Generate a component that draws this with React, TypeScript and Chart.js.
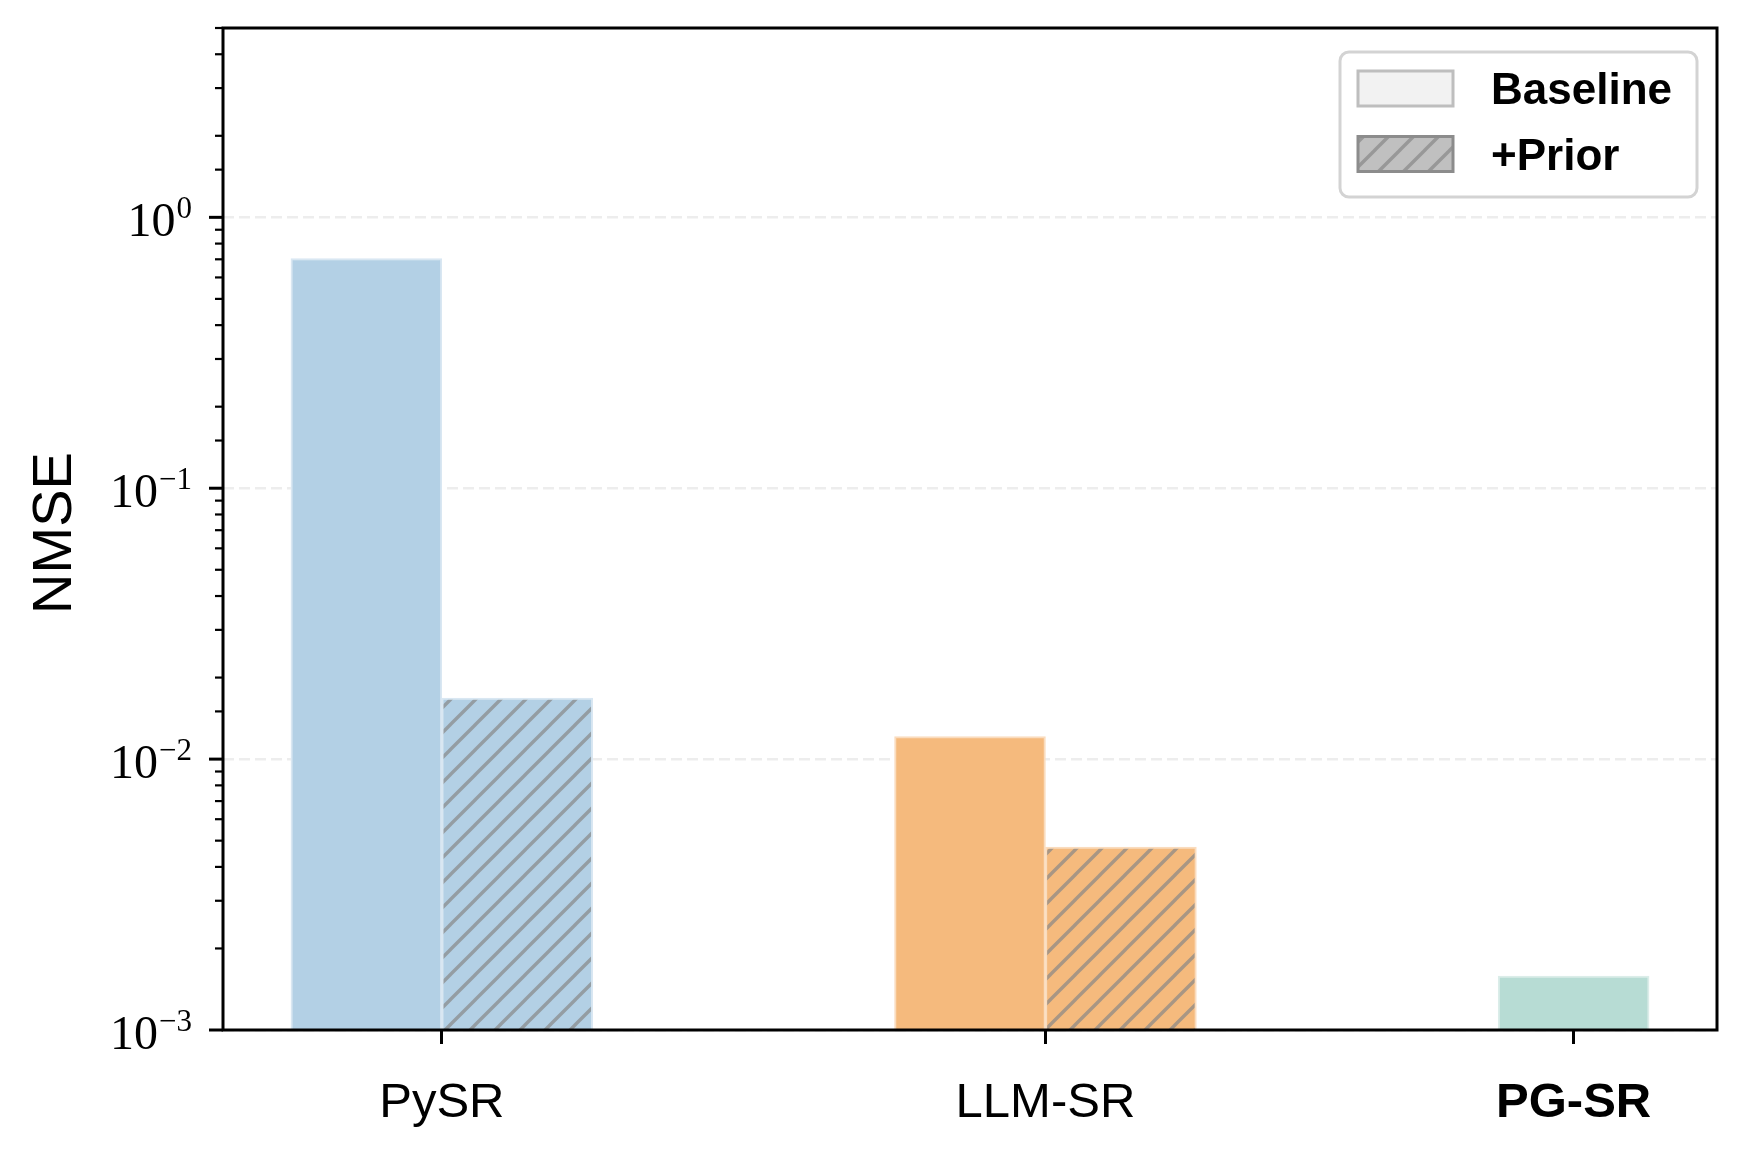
import React, { useEffect, useRef } from 'react';
import { Chart, registerables } from 'chart.js';

Chart.register(...registerables);

// ---- data ----
const categories = ['PySR', 'LLM-SR', 'PG-SR'];
const boldCategories = ['PG-SR'];
const baselineNMSE: (number | null)[] = [0.705, 0.0121, 0.00158];
const priorNMSE: (number | null)[] = [0.0168, 0.00473, null];
const seriesNames = ['Baseline', '+Prior'];
const yMin = 0.001;
const yMax = 5;
const yLabel = 'NMSE';

// ---- layout / style ----
const W = 1748;
const H = 1157;
const categoryX = [0, 1, 1.875];
const BAR_W = 0.25;
const X_MIN = -0.3625;
const X_MAX = 2.1125;
const barColors = ['rgb(179,208,229)', 'rgb(245,186,125)', 'rgb(183,220,212)'];
const barEdges = ['rgb(217,231,242)', 'rgb(250,220,190)', 'rgb(219,237,233)'];
const HATCH_COLOR = 'rgba(135,135,135,0.7)';
const HATCH_STEP = 25;

function makeHatch(bg: string, lineColor: string, lw: number) {
  const c = document.createElement('canvas');
  c.width = HATCH_STEP;
  c.height = HATCH_STEP;
  const g = c.getContext('2d')!;
  g.fillStyle = bg;
  g.fillRect(0, 0, HATCH_STEP, HATCH_STEP);
  g.strokeStyle = lineColor;
  g.lineWidth = lw;
  g.beginPath();
  for (let k = -1; k <= 1; k++) {
    g.moveTo(k * HATCH_STEP - 2, HATCH_STEP + 2);
    g.lineTo(k * HATCH_STEP + HATCH_STEP + 2, -2);
  }
  g.stroke();
  const p = document.createElement('canvas').getContext('2d')!.createPattern(c, 'repeat');
  return p as CanvasPattern;
}

const isMajor = (v: number) => {
  if (!(v > 0)) return false;
  const l = Math.log10(v);
  return Math.abs(l - Math.round(l)) < 1e-6;
};

export default function App() {
  const ref = useRef<HTMLCanvasElement>(null);

  useEffect(() => {
    document.body.style.margin = '0';
    const canvas = ref.current!;

    const baseData: any[] = [];
    const baseBg: any[] = [];
    const baseBorder: any[] = [];
    const priorData: any[] = [];
    const priorBg: any[] = [];
    const priorBorder: any[] = [];
    categories.forEach((_, i) => {
      const hasPrior = priorNMSE[i] != null;
      if (baselineNMSE[i] != null) {
        baseData.push({ x: hasPrior ? categoryX[i] - BAR_W / 2 : categoryX[i], y: baselineNMSE[i] });
        baseBg.push(barColors[i]);
        baseBorder.push(barEdges[i]);
      }
      if (hasPrior) {
        priorData.push({ x: categoryX[i] + BAR_W / 2, y: priorNMSE[i] });
        priorBg.push(makeHatch(barColors[i], HATCH_COLOR, 3.4));
        priorBorder.push(barEdges[i]);
      }
    });

    const legendHatch = makeHatch('rgb(192,192,192)', 'rgba(135,135,135,0.7)', 3.4);

    const mplPlugin = {
      id: 'mplAxes',
      afterDraw(chart: any) {
        const { ctx, chartArea: a, scales } = chart;
        const y = scales.y;
        const x = scales.x;
        ctx.save();
        // y tick marks
        ctx.strokeStyle = '#000';
        y.ticks.forEach((t: any) => {
          const v = t.value;
          if (v < yMin * 0.999 || v > yMax * 1.001) return;
          const py = y.getPixelForValue(v);
          const major = isMajor(v);
          ctx.lineWidth = major ? 3 : 2.2;
          ctx.beginPath();
          ctx.moveTo(a.left, py);
          ctx.lineTo(a.left - (major ? 14 : 8), py);
          ctx.stroke();
          if (major) {
            const p = Math.round(Math.log10(v));
            const exp = p === 0 ? '0' : '\u2212' + String(-p);
            ctx.fillStyle = '#000';
            ctx.textAlign = 'right';
            ctx.textBaseline = 'alphabetic';
            ctx.font = '31px "Liberation Serif"';
            const ex = 192;
            ctx.fillText(exp, ex, py + 1);
            const ew = ctx.measureText(exp).width;
            ctx.font = '48px "Liberation Serif"';
            ctx.fillText('10', ex - ew - 1, py + 18.5);
          }
        });
        // x tick labels
        ctx.fillStyle = '#000';
        ctx.textAlign = 'center';
        ctx.textBaseline = 'alphabetic';
        categories.forEach((c, i) => {
          const px = x.getPixelForValue(categoryX[i]);
          ctx.font = (boldCategories.includes(c) ? 'bold ' : '') + '49px "Liberation Sans"';
          ctx.fillText(c, px, 1117);
        });
        // y label
        ctx.save();
        ctx.translate(56, (a.top + a.bottom) / 2 + 4);
        ctx.rotate(-Math.PI / 2);
        ctx.font = '56px "Liberation Sans"';
        ctx.textAlign = 'center';
        ctx.textBaseline = 'middle';
        ctx.fillText(yLabel, 0, 0);
        ctx.restore();
        // frame
        ctx.strokeStyle = '#000';
        ctx.lineWidth = 3;
        ctx.strokeRect(a.left, a.top, a.right - a.left, a.bottom - a.top);
        // legend
        const lx = 1340, ly = 52, lw = 357, lh = 145;
        ctx.beginPath();
        ctx.roundRect(lx, ly, lw, lh, 9);
        ctx.fillStyle = 'rgba(255,255,255,0.85)';
        ctx.fill();
        ctx.strokeStyle = '#d3d3d3';
        ctx.lineWidth = 3;
        ctx.stroke();
        const entries = [
          { name: seriesNames[0], fill: 'rgb(242,242,242)' as any, edge: 'rgb(190,190,190)', cy: 88.5 },
          { name: seriesNames[1], fill: legendHatch as any, edge: 'rgb(140,140,140)', cy: 154 },
        ];
        entries.forEach((e) => {
          const px = 1358, pw = 95, ph = 35;
          ctx.fillStyle = e.fill;
          ctx.fillRect(px, e.cy - ph / 2, pw, ph);
          ctx.strokeStyle = e.edge;
          ctx.lineWidth = 3;
          ctx.strokeRect(px, e.cy - ph / 2, pw, ph);
          ctx.fillStyle = '#000';
          ctx.font = 'bold 44px "Liberation Sans"';
          ctx.textAlign = 'left';
          ctx.textBaseline = 'alphabetic';
          ctx.fillText(e.name, 1491, e.cy + 15.5);
        });
        ctx.restore();
      },
    };

    const chart = new Chart(canvas, {
      type: 'bar',
      data: {
        datasets: [
          {
            label: seriesNames[0],
            data: baseData,
            backgroundColor: baseBg,
            borderColor: baseBorder,
            borderWidth: 2,
            grouped: false,
            barPercentage: 1,
            categoryPercentage: 1,
          } as any,
          {
            label: seriesNames[1],
            data: priorData,
            backgroundColor: priorBg,
            borderColor: priorBorder,
            borderWidth: 2,
            grouped: false,
            barPercentage: 1,
            categoryPercentage: 1,
          } as any,
        ],
      },
      options: {
        animation: false,
        responsive: false,
        maintainAspectRatio: false,
        devicePixelRatio: 1,
        layout: { padding: { top: 28, right: 31, left: 0, bottom: 0 } },
        plugins: { legend: { display: false }, tooltip: { enabled: false } },
        scales: {
          x: {
            type: 'linear',
            min: X_MIN,
            max: X_MAX,
            offset: false,
            afterBuildTicks: (s: any) => {
              s.ticks = categoryX.map((v) => ({ value: v }));
            },
            afterFit: (s: any) => {
              s.height = H - 1030;
            },
            ticks: { display: false },
            grid: {
              display: true,
              offset: false,
              drawOnChartArea: false,
              drawTicks: true,
              tickLength: 14,
              tickWidth: 3,
              tickColor: '#000',
              color: '#000',
            },
            border: { display: false },
          },
          y: {
            type: 'logarithmic',
            min: yMin,
            max: yMax,
            z: 1,
            afterFit: (s: any) => {
              s.width = 223;
            },
            ticks: { display: false },
            grid: {
              drawTicks: false,
              lineWidth: 2.5,
              color: (c: any) => (c.tick && isMajor(c.tick.value) ? 'rgba(0,0,0,0.07)' : 'rgba(0,0,0,0)'),
            },
            border: { display: false, dash: [11, 5] },
          },
        } as any,
      },
      plugins: [mplPlugin],
    });

    return () => chart.destroy();
  }, []);

  return <canvas ref={ref} width={W} height={H} style={{ display: 'block', width: W, height: H }} />;
}
